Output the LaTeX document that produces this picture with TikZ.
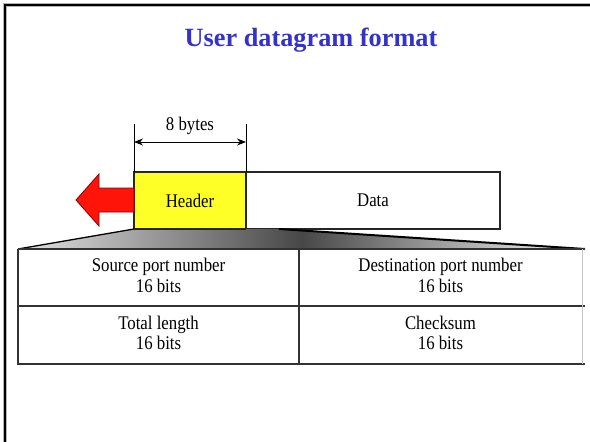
\documentclass[tikz,border=0pt]{standalone}
\usepackage{fontspec}
\usepackage{graphicx}
\setmainfont{Liberation Serif}
\usetikzlibrary{arrows.meta,calc}
\definecolor{titleblue}{RGB}{51,51,204}
\definecolor{arrred}{RGB}{255,20,10}
\definecolor{hdryellow}{RGB}{255,255,40}
\newcommand{\tallt}[1]{\scalebox{1}[1.15]{#1}}
\newcommand{\twoline}[2]{\tallt{\begin{tabular}{@{}c@{}}#1\\[-1pt]#2\end{tabular}}}
\tikzset{
  box/.style={draw=black!85, line width=1.1pt, minimum height=57pt, inner sep=0pt, outer sep=0pt, font=\fontsize{16.8}{18}\selectfont},
  cell/.style={inner sep=0pt, outer sep=0pt, align=center, font=\fontsize{16.8}{19}\selectfont},
  tline/.style={draw=black!80, line width=1.2pt},
  dim/.style={draw=black, line width=0.9pt},
}
\begin{document}
\begin{tikzpicture}[x=1pt,y=-1pt]
\useasboundingbox[fill=white] (0,0) rectangle (590,442);
% frame
\draw[gray!60, line width=3.6pt] (5,443) -- (5,5) -- (591,5);
\draw[black, line width=2.2pt] (5,443) -- (5,5) -- (591,5);
% title
\node[font=\fontsize{26.3}{28}\selectfont\bfseries, text=titleblue] (title) at (311,40) {User datagram format};
% packet boxes
\node[box, fill=hdryellow, minimum width=112pt] (header) at (190,200.5) {\tallt{Header}};
\node[box, fill=white, minimum width=254pt] (data) at (373,200.5) {\tallt{Data}};
% table cells
\node[cell, minimum width=281pt, minimum height=57pt] (src) at (158.5,277.5) {\twoline{Source port number}{16 bits}};
\node[cell, minimum width=283pt, minimum height=57pt] (dst) at (440.5,277.5) {\twoline{Destination port number}{16 bits}};
\node[cell, minimum width=281pt, minimum height=58pt] (tot) at (158.5,335) {\twoline{Total length}{16 bits}};
\node[cell, minimum width=283pt, minimum height=58pt] (cks) at (440.5,335) {\twoline{Checksum}{16 bits}};
% gradient expansion
\coordinate (rs) at (279,229);
\coordinate (re) at (585,249);
\shade[left color=gray!22, right color=gray!6, middle color=black!72]
  (header.south west) -- (rs) -- (re) -- (src.north west) -- cycle;
\draw[black, line width=1.3pt] (header.south west) -- (src.north west);
\draw[black, line width=2pt] (rs) -- (re);
% redraw header bottom over shading
\draw[draw=black!85, line width=1.1pt] (header.south west) -- (header.south east);
% table lines
\draw[tline] (src.north west) -- (re);
\draw[tline] (src.north west) -- (tot.south west) -- (cks.south east) -- ++(3,0);
\draw[tline] (tot.north west) -- (cks.north east) -- ++(3,0);
\draw[tline] (src.north east) -- (tot.south east);
\draw[draw=gray!45, line width=1pt] (dst.north east) -- (cks.south east);
% red arrow
\coordinate (a0) at (76,200);
\fill[arrred, draw=red!55!black, line width=0.8pt]
  (header.west |- 0,188) -- (99,188) -- (99,174) -- (a0) -- (99,226) -- (99,212) -- (header.west |- 0,212) -- cycle;
% dimension
\coordinate (t1) at (134,124);
\coordinate (t2) at (246,124);
\draw[dim] (header.north west) -- (t1);
\draw[dim] (header.north east) -- (t2);
\coordinate (m1) at (134,142);
\coordinate (m2) at (246,142);
\draw[dim, {Stealth[length=9pt,width=7pt]}-{Stealth[length=9pt,width=7pt]}] (m1) -- (m2);
\node[font=\fontsize{16.8}{18}\selectfont] (bytes) at (190,126) {\tallt{8 bytes}};
\end{tikzpicture}
\end{document}
